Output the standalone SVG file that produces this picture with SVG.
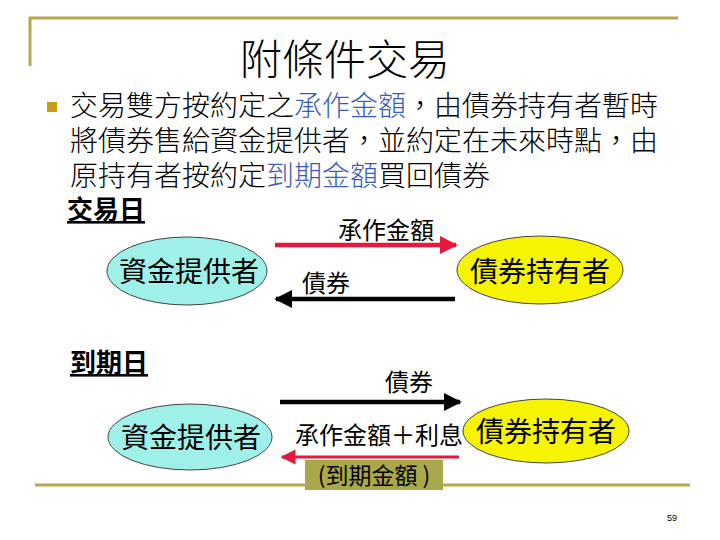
<svg xmlns="http://www.w3.org/2000/svg" width="720" height="540" viewBox="0 0 720 540">
<defs>
<style>
.cjk{font-family:"Noto Sans CJK TC","Noto Sans CJK SC",sans-serif;fill:#000}
.title{font-size:42px;font-weight:300}
.body{font-size:28px;font-weight:300}
.blue{fill:#3a5cb8}
.head{font-size:26px;font-weight:bold}
.lbl{font-size:24px}
.node{font-size:28px}
.frame{stroke:#b8a84e;stroke-width:3;fill:none}
.ell{stroke:#444;stroke-width:1}
</style>
<marker id="hr" viewBox="0 0 10 10" refX="9" refY="5" markerWidth="4" markerHeight="4" orient="auto" markerUnits="strokeWidth"><path d="M0,0 L10,5 L0,10 z" fill="#e8183c"/></marker>
<marker id="hk" viewBox="0 0 10 10" refX="9" refY="5" markerWidth="4" markerHeight="4" orient="auto" markerUnits="strokeWidth"><path d="M0,0 L10,5 L0,10 z" fill="#000"/></marker>
<marker id="hr2" viewBox="0 0 10 10" refX="9" refY="5" markerWidth="5" markerHeight="5" orient="auto" markerUnits="strokeWidth"><path d="M0,0 L10,5 L0,10 z" fill="#e8183c"/></marker>
</defs>
<rect width="720" height="540" fill="#fff"/>
<g id="frame">
<path class="frame" d="M30,66 V18 H678"/>
<line class="frame" x1="35" y1="485" x2="690" y2="485"/>
</g>
<g id="title"><text class="cjk title" x="345" y="75" text-anchor="middle">附條件交易</text></g>
<g id="bullet-text">
<rect x="47" y="102" width="10" height="10" fill="#c89b10"/>
<text class="cjk body" x="70" y="116">交易雙方按約定之<tspan class="blue">承作金額</tspan>，由債券持有者暫時</text>
<text class="cjk body" x="70" y="151">將債券售給資金提供者，並約定在未來時點，由</text>
<text class="cjk body" x="70" y="186">原持有者按約定<tspan class="blue">到期金額</tspan>買回債券</text>
</g>
<g id="trade-day">
<text class="cjk head" x="67" y="219" text-decoration="underline">交易日</text>
</g>
<g id="maturity-day">
<text class="cjk head" x="70" y="372" text-decoration="underline">到期日</text>
</g>
<g id="connectors">
<line x1="275" y1="245" x2="456" y2="245" stroke="#e8183c" stroke-width="4.5" marker-end="url(#hr)"/>
<line x1="455" y1="299" x2="276" y2="299" stroke="#000" stroke-width="4.5" marker-end="url(#hk)"/>
<line x1="280" y1="402" x2="460" y2="402" stroke="#000" stroke-width="4.5" marker-end="url(#hk)"/>
<line x1="459" y1="457" x2="282" y2="457" stroke="#e8183c" stroke-width="3" marker-end="url(#hr2)"/>
<text class="cjk lbl" x="338" y="239">承作金額</text>
<text class="cjk lbl" x="302" y="292">債券</text>
<text class="cjk lbl" x="385" y="391">債券</text>
<text class="cjk lbl" x="295" y="444">承作金額＋利息</text>
<rect x="305" y="460" width="138" height="30" fill="#a9a84a"/>
<text class="cjk" x="374" y="484" font-size="23" text-anchor="middle">(到期金額 )</text>
</g>
<g id="n1">
<ellipse class="ell" cx="187" cy="271" rx="80" ry="34" fill="#9ff0e8"/>
<text class="cjk node" x="189" y="282" text-anchor="middle">資金提供者</text>
</g>
<g id="n2">
<ellipse class="ell" cx="540" cy="270" rx="83" ry="34" fill="#f6f400"/>
<text class="cjk node" x="540" y="282" text-anchor="middle">債券持有者</text>
</g>
<g id="n3">
<ellipse class="ell" cx="190" cy="437" rx="82" ry="33" fill="#9ff0e8"/>
<text class="cjk node" x="191" y="448" text-anchor="middle">資金提供者</text>
</g>
<g id="n4">
<ellipse class="ell" cx="546" cy="431" rx="83" ry="32" fill="#f6f400"/>
<text class="cjk node" x="546" y="442" text-anchor="middle">債券持有者</text>
</g>
<g id="page"><text x="672" y="521" font-family="Liberation Sans, sans-serif" font-size="9" text-anchor="middle">59</text></g>
</svg>
